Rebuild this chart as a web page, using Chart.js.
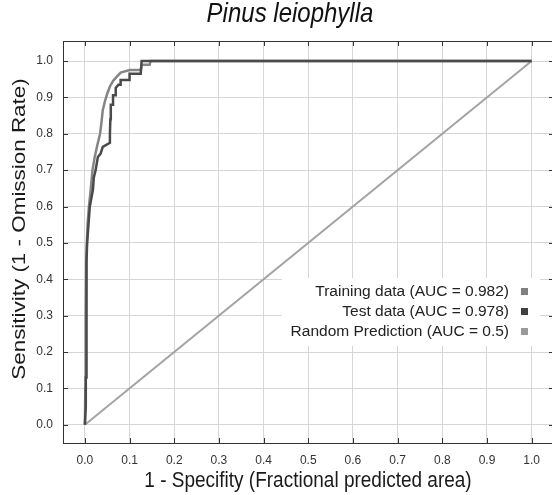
<!DOCTYPE html>
<html>
<head>
<meta charset="utf-8">
<script src="https://cdn.jsdelivr.net/npm/chart.js@4.4.1/dist/chart.umd.min.js"></script>
<style>
html,body{margin:0;padding:0;overflow:hidden;background:#fff;width:552px;height:495px;}
canvas{display:block;}
</style>
</head>
<body>
<canvas id="c" width="560" height="495"></canvas>
<script>
// ---- data ----
const chartTitle = "Pinus leiophylla";
const xAxisTitle = "1 - Specifity (Fractional predicted area)";
const yAxisTitle = "Sensitivity (1 - Omission Rate)";
const tickValues = [0,0.1,0.2,0.3,0.4,0.5,0.6,0.7,0.8,0.9,1.0];
const seriesNames = ["Training data (AUC = 0.982)","Test data (AUC = 0.978)","Random Prediction (AUC = 0.5)"];

const trainX = [0,0.001,0.002,0.003,0.006,0.009,0.013,0.017,0.022,0.028,0.034,0.037,0.040,0.045,0.050,0.056,0.063,0.070,0.080,0.100,0.125,0.127,0.145,0.147,1.0];
const trainY = [0,0.10,0.30,0.45,0.55,0.60,0.646,0.70,0.736,0.77,0.80,0.83,0.865,0.89,0.91,0.93,0.945,0.955,0.968,0.975,0.975,0.99,0.99,1.0,1.0];

const testX = [0,0.002,0.002,0.003,0.003,0.004,0.004,0.005,0.008,0.011,0.014,0.018,0.020,0.024,0.029,0.035,0.040,0.056,0.056,0.057,0.058,0.063,0.063,0.069,0.069,0.075,0.080,0.080,0.100,0.100,0.125,0.127,1.0];
const testY = [0,0.05,0.13,0.13,0.26,0.26,0.45,0.50,0.55,0.60,0.62,0.646,0.68,0.70,0.736,0.745,0.764,0.775,0.80,0.84,0.88,0.88,0.906,0.906,0.926,0.935,0.935,0.948,0.948,0.965,0.965,1.0,1.0];

const randomX = [0,1];
const randomY = [0,1];

const seriesColors = ["#858585","#4a4a4a","#a3a3a3"];
const legendColors = ["#808080","#404040","#9a9a9a"];

const toPts = (xs, ys) => xs.map((x,i)=>({x:x,y:ys[i]}));

const FONT = "'Liberation Sans', Arial, sans-serif";

function stretchedText(ctx, text, x, y, font, sx, sy, rot){
  ctx.save();
  ctx.translate(x, y);
  if (rot) ctx.rotate(rot);
  ctx.scale(sx, sy);
  ctx.font = font;
  ctx.fillText(text, 0, 0);
  ctx.restore();
}

const decor = {
  id:'decor',
  afterDraw(chart){
    const ctx = chart.ctx, a = chart.chartArea;
    const xs = chart.scales.x, ys = chart.scales.y;
    ctx.save();
    // borders top/right
    ctx.strokeStyle = "#333"; ctx.lineWidth = 1;
    ctx.beginPath();
    ctx.moveTo(a.left, a.top+0.5); ctx.lineTo(a.right, a.top+0.5);
    ctx.moveTo(a.right-0.5, a.top); ctx.lineTo(a.right-0.5, a.bottom);
    ctx.stroke();
    // inward tick marks
    ctx.beginPath();
    tickValues.forEach(v=>{
      const px = Math.round(xs.getPixelForValue(v))+0.5;
      ctx.moveTo(px, a.top); ctx.lineTo(px, a.top+5);
      ctx.moveTo(px, a.bottom); ctx.lineTo(px, a.bottom-5);
      const py = Math.round(ys.getPixelForValue(v))+0.5;
      ctx.moveTo(a.left, py); ctx.lineTo(a.left+5, py);
      ctx.moveTo(a.right, py); ctx.lineTo(a.right-5, py);
    });
    ctx.stroke();
    // title
    ctx.fillStyle = "#111";
    ctx.textAlign = "center"; ctx.textBaseline = "middle";
    stretchedText(ctx, chartTitle, 290, 15, "italic 24px " + FONT, 1, 1.12, 0);
    // axis titles
    ctx.fillStyle = "#1a1a1a";
    stretchedText(ctx, xAxisTitle, 308, 481, "19px " + FONT, 1, 1.15, 0);
    stretchedText(ctx, yAxisTitle, 20, 229, "19px " + FONT, 1.18, 1, -Math.PI/2);
    // legend
    ctx.fillStyle = "#fff";
    ctx.fillRect(282, 278, 258, 68);
    ctx.font = "15.5px " + FONT;
    ctx.textAlign = "right";
    const rows = [292, 312, 332];
    seriesNames.forEach((n,i)=>{
      ctx.fillStyle = "#222";
      ctx.fillText(n, 509, rows[i]);
      ctx.fillStyle = legendColors[i];
      ctx.fillRect(521, rows[i]-4, 7, 7);
    });
    ctx.restore();
  }
};

new Chart(document.getElementById('c'), {
  type:'scatter',
  data:{
    datasets:[
      {label:seriesNames[2], data:toPts(randomX, randomY), showLine:true, borderColor:seriesColors[2], borderWidth:2, pointRadius:0, fill:false, order:3},
      {label:seriesNames[0], data:toPts(trainX, trainY), showLine:true, borderColor:seriesColors[0], borderWidth:2.5, pointRadius:0, fill:false, order:2},
      {label:seriesNames[1], data:toPts(testX, testY), showLine:true, borderColor:seriesColors[1], borderWidth:2.5, pointRadius:0, fill:false, order:1}
    ]
  },
  options:{
    responsive:false,
    animation:false,
    events:[],
    layout:{padding:{top:41, right:6, left:0, bottom:0}},
    plugins:{legend:{display:false}, title:{display:false}, tooltip:{enabled:false}},
    scales:{
      x:{
        type:'linear', min:-0.049, max:1.05,
        afterBuildTicks(s){ s.ticks = tickValues.map(v=>({value:v})); },
        afterFit(s){ s.height = 52; },
        grid:{color:"#d6d6d6", drawTicks:false, lineWidth:1},
        border:{color:"#333", width:1},
        ticks:{padding:10, color:"#333", font:{family:FONT, size:12}, maxRotation:0, autoSkip:false, callback:(v)=>Number(v).toFixed(1)}
      },
      y:{
        type:'linear', min:-0.05, max:1.055,
        afterBuildTicks(s){ s.ticks = tickValues.map(v=>({value:v})); },
        afterFit(s){ s.width = 63; },
        grid:{color:"#d6d6d6", drawTicks:false, lineWidth:1},
        border:{color:"#333", width:1},
        ticks:{padding:10, color:"#333", font:{family:FONT, size:12}, autoSkip:false, callback:(v)=>Number(v).toFixed(1)}
      }
    }
  },
  plugins:[decor]
});
</script>
</body>
</html>
